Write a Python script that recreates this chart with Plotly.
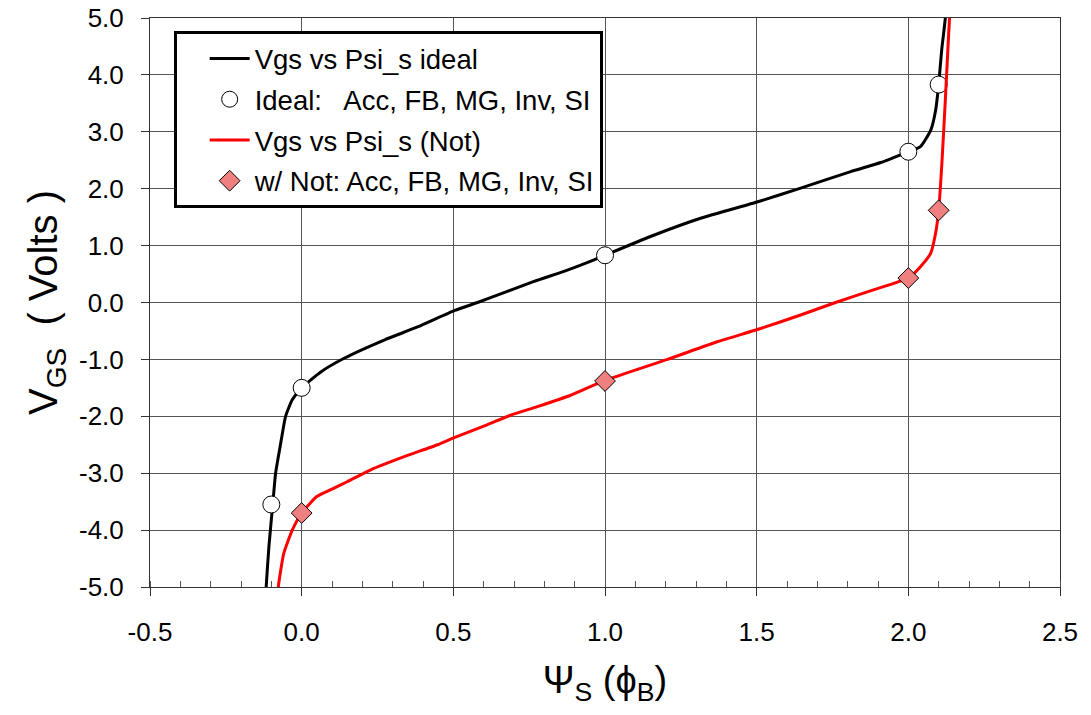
import plotly.graph_objects as go

# Ideal curve (Vgs vs Psi_s)
ideal_psi = [-0.122, -0.117, -0.108, -0.095, -0.086, -0.069, -0.053, -0.031, 0.0, 0.063, 0.14,
             0.272, 0.382, 0.505, 0.58, 0.656, 0.766, 0.876, 0.964, 1.0, 1.15, 1.315,
             1.504, 1.645, 1.81, 1.909, 1.953, 2.0, 2.04, 2.074, 2.09, 2.1, 2.11, 2.122, 2.125]
ideal_vgs = [-5.6, -5.0, -4.29, -3.53, -3.0, -2.47, -2.0, -1.71, -1.5, -1.22, -0.98,
             -0.66, -0.43, -0.14, 0.0, 0.15, 0.37, 0.57, 0.75, 0.83, 1.16, 1.48,
             1.77, 2.01, 2.30, 2.46, 2.55, 2.65, 2.74, 3.03, 3.38, 3.83, 4.44, 5.0, 5.3]

# Curve with "Not" effects
not_psi = [-0.08, -0.077, -0.059, -0.031, 0.0, 0.05, 0.1, 0.15, 0.228, 0.338, 0.448, 0.505,
           0.611, 0.684, 0.777, 0.887, 1.0, 1.206, 1.37, 1.505, 1.645, 1.76, 1.89, 2.0,
           2.04, 2.074, 2.09, 2.1, 2.11, 2.122, 2.133, 2.136, 2.138]
not_vgs = [-5.4, -5.0, -4.41, -4.0, -3.7, -3.41, -3.28, -3.15, -2.94, -2.71, -2.50, -2.37,
           -2.15, -1.99, -1.83, -1.63, -1.37, -1.0, -0.69, -0.47, -0.22, 0.0, 0.23, 0.43,
           0.63, 0.87, 1.22, 1.62, 2.39, 3.56, 4.73, 5.0, 5.3]

# Marked points: Acc, FB, MG, Inv, SI
ideal_pts_psi = [-0.1, 0.0, 1.0, 2.0, 2.1]
ideal_pts_vgs = [-3.55, -1.5, 0.83, 2.65, 3.83]
not_pts_psi = [0.0, 1.0, 2.0, 2.1]
not_pts_vgs = [-3.7, -1.38, 0.43, 1.62]

x_tick_vals = [-0.5, 0.0, 0.5, 1.0, 1.5, 2.0, 2.5]
x_tick_text = ["-0.5", "0.0", "0.5", "1.0", "1.5", "2.0", "2.5"]
y_tick_vals = [-5, -4, -3, -2, -1, 0, 1, 2, 3, 4, 5]
y_tick_text = ["-5.0", "-4.0", "-3.0", "-2.0", "-1.0", "0.0", "1.0", "2.0", "3.0", "4.0", "5.0"]

FONT = "Liberation Sans, Arial, sans-serif"

fig = go.Figure()
fig.add_trace(go.Scatter(x=ideal_psi, y=ideal_vgs, mode="lines", name="Vgs vs Psi_s ideal",
                         line=dict(color="black", width=3, shape="spline", smoothing=0.5),
                         legendgroup="a"))
fig.add_trace(go.Scatter(x=ideal_pts_psi, y=ideal_pts_vgs, mode="markers",
                         name="Ideal:   Acc, FB, MG, Inv, SI", legendgroup="b",
                         marker=dict(symbol="circle", size=17, color="white",
                                     line=dict(color="black", width=1))))
fig.add_trace(go.Scatter(x=not_psi, y=not_vgs, mode="lines", name="Vgs vs Psi_s (Not)",
                         line=dict(color="#ff0000", width=3, shape="spline", smoothing=0.5),
                         legendgroup="c"))
fig.add_trace(go.Scatter(x=not_pts_psi, y=not_pts_vgs, mode="markers",
                         name="w/ Not: Acc, FB, MG, Inv, SI", legendgroup="d",
                         marker=dict(symbol="diamond", size=16, color="#f08080",
                                     line=dict(color="black", width=1))))

fig.update_layout(
    width=1091, height=715,
    margin=dict(l=150, r=31, t=18, b=128),
    paper_bgcolor="white", plot_bgcolor="white",
    font=dict(family=FONT, size=26, color="black"),
    showlegend=True,
    legend=dict(x=0.026, y=0.977, xanchor="left", yanchor="top",
                bgcolor="white", bordercolor="black", borderwidth=3,
                font=dict(family=FONT, size=27.5, color="black"),
                tracegroupgap=2, itemwidth=40, indentation=28),
    xaxis=dict(range=[-0.5, 2.5], tickvals=x_tick_vals, ticktext=x_tick_text,
               automargin=False,
               showgrid=True, gridcolor="#555555", gridwidth=1,
               showline=True, linecolor="#333333", linewidth=1, mirror=True,
               ticks="outside", ticklen=8, tickcolor="#333333",
               ticklabelstandoff=14,
               minor=dict(dtick=0.1, tick0=0, ticks="inside", ticklen=6, tickcolor="#555555",
                          showgrid=False),
               zeroline=False,
               tickfont=dict(size=26),
               title=dict(text="Ψ<sub>S</sub> (ϕ<sub>B</sub>)", font=dict(size=38), standoff=20)),
    yaxis=dict(range=[-5, 5], tickvals=y_tick_vals, ticktext=y_tick_text,
               automargin=False,
               showgrid=True, gridcolor="#555555", gridwidth=1,
               showline=True, linecolor="#333333", linewidth=1, mirror=True,
               ticks="outside", ticklen=8, tickcolor="#333333",
               ticklabelstandoff=12,
               zeroline=False,
               tickfont=dict(size=26),
               title=dict(text="V<sub>GS</sub>  ( Volts )", font=dict(size=40), standoff=8)),
)

fig.write_html("out.html")
